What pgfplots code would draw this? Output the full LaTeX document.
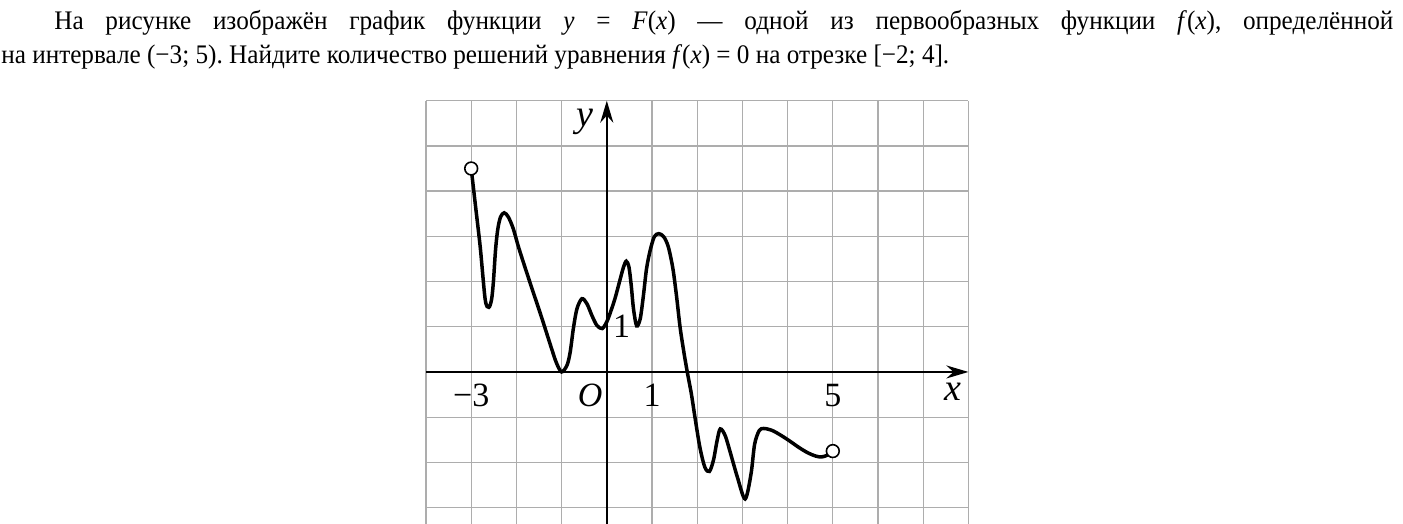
\documentclass[border=0pt]{standalone}
\usepackage{fontspec}
\setmainfont{Liberation Serif}[FakeStretch=0.94]
\newfontfamily\plainserif{Liberation Serif}
\usepackage{pgfplots}
\pgfplotsset{compat=1.18}
\usetikzlibrary{arrows.meta}
\frenchspacing
\begin{document}
\begin{tikzpicture}
\path[use as bounding box] (0,0) rectangle (701.5pt,-262pt);
\node[anchor=base west, inner sep=0pt, font=\fontsize{13.4}{16}\selectfont] at (27pt,-15pt)
 {\makebox[669.5pt][s]{На рисунке изображён график функции \textit{y} = \textit{F}(\textit{x}) — одной из первообразных функции \textit{f}(\textit{x}), определённой}};
\node[anchor=base west, inner sep=0pt, font=\fontsize{13.4}{16}\selectfont] at (0.5pt,-32pt)
 {на интервале (−3; 5). Найдите количество решений уравнения \textit{f}(\textit{x}) = 0 на отрезке [−2; 4].};
\begin{axis}[
  at={(213pt,-50.35pt)}, anchor=north west,
  scale only axis, width=271.2pt, height=211.8pt,
  xmin=-4, xmax=8, ymin=-3.37, ymax=6,
  axis lines=middle,
  axis line style={line width=1.1pt, -{Stealth[length=11pt,width=6.5pt]}},
  xtick={-4,...,8}, ytick={-3,...,6},
  xticklabels={,{−3},,,,1,,,,5,,,},
  yticklabels={},
  grid=major,
  grid style={black!32, line width=0.65pt},
  major tick length=0pt,
  xticklabel style={font=\plainserif\fontsize{17}{17}\selectfont, anchor=base, yshift=-17.5pt},
  clip=false,
]
\addplot[smooth, line width=1.75pt, black] coordinates {
(-3,4.5) (-2.9,3.63) (-2.8,2.76) (-2.69,1.6) (-2.61,1.43) (-2.55,1.60) (-2.51,1.98)
(-2.46,2.72) (-2.41,3.17) (-2.35,3.43) (-2.27,3.52) (-2.18,3.43) (-2.07,3.17) (-1.94,2.72)
(-1.70,1.98) (-1.45,1.23) (-1.21,0.48) (-1.11,0.19) (-1.0,0) (-0.88,0.15) (-0.81,0.44)
(-0.74,0.96) (-0.66,1.40) (-0.55,1.62) (-0.44,1.51) (-0.33,1.25) (-0.22,1.03) (-0.10,0.96)
(0,1.11) (0.07,1.29) (0.18,1.62) (0.29,2.03) (0.37,2.32) (0.43,2.45) (0.49,2.32) (0.54,1.92)
(0.59,1.40) (0.66,1.02) (0.74,1.18) (0.81,1.69) (0.88,2.29) (0.96,2.69) (1.05,2.99)
(1.15,3.06) (1.26,2.99) (1.36,2.77) (1.46,2.3) (1.54,1.7) (1.62,1.0) (1.70,0.47) (1.78,0)
(1.87,-0.48) (1.95,-1.0) (2.06,-1.67) (2.17,-2.11) (2.27,-2.2) (2.36,-1.95) (2.44,-1.52)
(2.51,-1.26) (2.62,-1.41) (2.74,-1.81) (2.89,-2.33) (3.06,-2.81) (3.19,-2.26) (3.27,-1.6)
(3.37,-1.3) (3.47,-1.25) (3.65,-1.29) (3.85,-1.40) (4.05,-1.53) (4.25,-1.67) (4.45,-1.79)
(4.62,-1.86) (4.75,-1.88) (4.88,-1.84) (5,-1.75)
};
\addplot[only marks, mark=*, mark size=3.2pt, mark options={fill=white, draw=black, line width=0.8pt}]
 coordinates {(-3,4.5) (5,-1.75)};
\node[font=\plainserif\fontsize{19}{19}\selectfont\itshape] at (axis cs:7.66,-0.43) {x};
\node[font=\plainserif\fontsize{19}{19}\selectfont\itshape] at (axis cs:-0.49,5.54) {y};
\node[font=\plainserif\fontsize{17}{17}\selectfont\itshape] at (axis cs:-0.37,-0.51) {O};
\node[font=\plainserif\fontsize{17}{17}\selectfont] at (axis cs:0.33,1) {1};
\end{axis}
\end{tikzpicture}
\end{document}
